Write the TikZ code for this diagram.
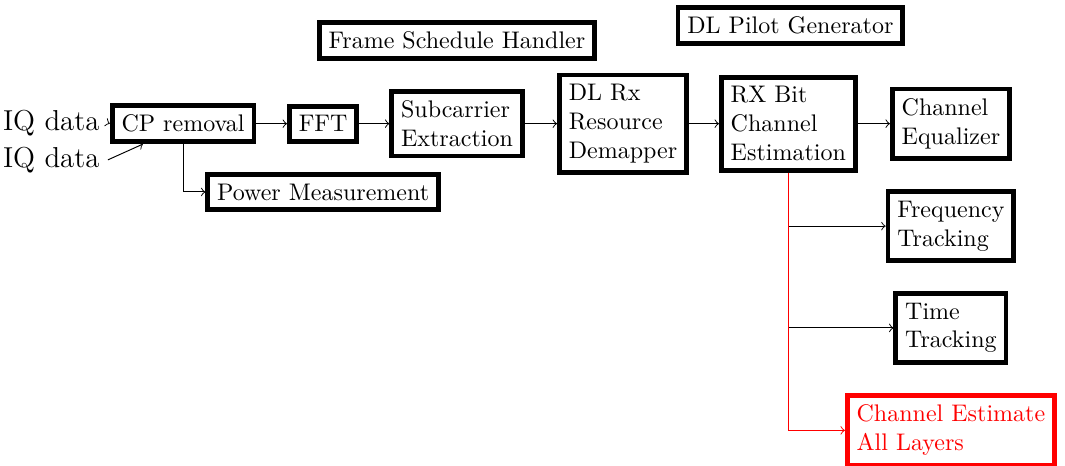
\documentclass[tikz,border=0pt]{standalone}
\usepackage{tikz}

\begin{document}
\begin{tikzpicture}[block/.style={draw, line width=2pt, inner sep=3.9pt, align=left},
                    redblock/.style={block, draw=red, text=red}]
    \useasboundingbox (0, 0) rectangle (15.59, 6.81);

    \node at (0.75, 5.01) (iq1) {\large IQ data};
    \node at (0.75, 4.47) (iq2) {\large IQ data};
    \node at (2.68, 5.0) [block] (cp) {CP removal};
    \node at (4.73, 5.0) [block] (fft) {FFT};
    \node at (6.69, 5.0) [block] (sub) {Subcarrier\\Extraction};
    \node at (9.12, 5.0) [block] (demap) {DL Rx\\Resource\\Demapper};
    \node at (11.54, 5.0) [block] (rxbit) {RX Bit\\Channel\\Estimation};
    \node at (13.92, 5.0) [block] (eq) {Channel\\Equalizer};
    \node at (13.92, 3.50) [block] (freq) {Frequency\\Tracking};
    \node at (13.92, 2.01) [block] (time) {Time\\Tracking};
    \node at (13.92, 0.51) [redblock] (chest) {Channel Estimate\\All Layers};
    \node at (4.73, 4.00) [block] (power) {Power Measurement};
    \node at (6.69, 6.22) [block] (frame) {Frame Schedule Handler};
    \node at (11.57, 6.44) [block] (pilot) {DL Pilot Generator};

    \draw[->] (iq1.east) -- (cp.west);
    \draw[->] (iq2.east) -- (cp.-153);
    \draw[->] (cp.south) |- (power.west);
    \draw[->] (cp.east) -- (fft.west);
    \draw[->] (fft.east) -- (sub.west);
    \draw[->] (sub.east) -- (demap.west);
    \draw[->] (demap.east) -- (rxbit.west);
    \draw[->] (rxbit.east) -- (eq.west);
    \draw[->] (rxbit.south) |- (freq.west);
    \draw[->] (rxbit.south) |- (time.west);
    \draw[->, red] (rxbit.south) |- (chest.west);

\end{tikzpicture}
\end{document}
